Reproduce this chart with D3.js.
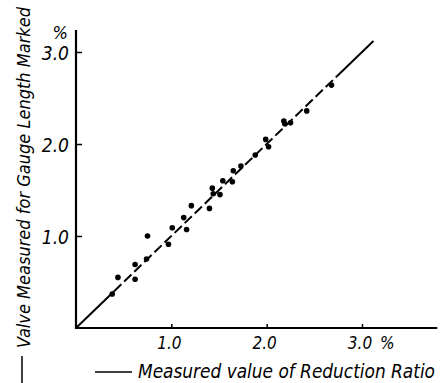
<!DOCTYPE html>
<html>
<head>
<meta charset="utf-8">
<script src="https://cdn.jsdelivr.net/npm/d3@7"></script>
<style>
  body { margin: 0; background: #fff; }
  text { font-family: "DejaVu Sans Condensed", "DejaVu Sans", sans-serif; font-style: italic; font-stretch: condensed; fill: #000; }
</style>
</head>
<body>
<div id="vis-holder"></div>
<script>
// Set dimensions
const width = 446;
const height = 383;

// measured reduction ratio (%)
const measuredX = [0.38, 0.44, 0.62, 0.62, 0.74, 0.75, 0.97, 1.01, 1.13, 1.16, 1.21,
                   1.40, 1.43, 1.44, 1.51, 1.54, 1.64, 1.65, 1.73, 1.88, 1.99, 2.02,
                   2.18, 2.19, 2.25, 2.42, 2.68];
// value measured for gauge length marked (%)
const measuredY = [0.37, 0.55, 0.69, 0.53, 0.75, 1.00, 0.91, 1.09, 1.20, 1.07, 1.33,
                   1.30, 1.52, 1.46, 1.45, 1.60, 1.59, 1.71, 1.76, 1.88, 2.05, 1.97,
                   2.25, 2.22, 2.23, 2.36, 2.64];

const xTicks = [1.0, 2.0, 3.0];
const yTicks = [1.0, 2.0, 3.0];
const xTickLabels = ["1.0", "2.0", "3.0"];
const yTickLabels = ["1.0", "2.0", "3.0"];

// fitted line y = x, drawn solid / dashed / solid
const fitBreaks = [0, 0.40, 2.74, 3.12];
const fitDashed = [false, true, false];

const svg = d3.select("#vis-holder")
  .append("svg")
  .attr("width", width)
  .attr("height", height);

svg.append("rect").attr("width", width).attr("height", height).attr("fill", "#fff");

// scales
const x = d3.scaleLinear().domain([0, 3]).range([76, 362]);
const y = d3.scaleLinear().domain([0, 3]).range([328, 52]);

// x axis
svg.append("g")
  .attr("transform", `translate(0,${y(0)})`)
  .call(d3.axisTop(x).tickValues(xTicks).tickSize(4).tickSizeOuter(0).tickFormat(""))
  .call(g => g.select(".domain").remove())
  .call(g => g.selectAll("line").attr("stroke-width", 1.5));
svg.append("line")
  .attr("x1", x(0) - 1).attr("x2", x(3.79))
  .attr("y1", y(0)).attr("y2", y(0))
  .attr("stroke", "#000").attr("stroke-width", 2.2);

// y axis
svg.append("g")
  .attr("transform", `translate(${x(0)},0)`)
  .call(d3.axisRight(y).tickValues(yTicks).tickSize(6).tickSizeOuter(0).tickFormat(""))
  .call(g => g.select(".domain").remove())
  .call(g => g.selectAll("line").attr("stroke-width", 1.5));
svg.append("line")
  .attr("x1", x(0)).attr("x2", x(0))
  .attr("y1", y(0) + 1).attr("y2", y(3.24))
  .attr("stroke", "#000").attr("stroke-width", 2.2);

// tick labels
svg.selectAll(".xlab")
  .data(xTicks)
  .enter()
  .append("text")
  .attr("class", "xlab")
  .attr("x", d => x(d) - 2)
  .attr("y", y(0) + 21)
  .attr("text-anchor", "middle")
  .attr("font-size", "17px")
  .text((d, i) => xTickLabels[i]);

svg.append("text")
  .attr("x", x(3) + 18)
  .attr("y", y(0) + 21)
  .attr("font-size", "17px")
  .text("%");

svg.selectAll(".ylab")
  .data(yTicks)
  .enter()
  .append("text")
  .attr("class", "ylab")
  .attr("x", x(0) - 7)
  .attr("y", d => y(d) + 8)
  .attr("text-anchor", "end")
  .attr("font-size", "19px")
  .text((d, i) => yTickLabels[i]);

svg.append("text")
  .attr("x", x(0) - 8)
  .attr("y", y(3) - 13)
  .attr("text-anchor", "end")
  .attr("font-size", "18px")
  .text("%");

// fitted line
const fitLine = d3.line().x(d => x(d)).y(d => y(d));
fitDashed.forEach((dashed, i) => {
  svg.append("path")
    .attr("d", fitLine([fitBreaks[i], fitBreaks[i + 1]]))
    .attr("fill", "none")
    .attr("stroke", "#000")
    .attr("stroke-width", 2)
    .attr("stroke-dasharray", dashed ? "10,4" : null);
});

// points
svg.selectAll("circle")
  .data(measuredX)
  .enter()
  .append("circle")
  .attr("cx", d => x(d))
  .attr("cy", (d, i) => y(measuredY[i]))
  .attr("r", 2.8)
  .attr("fill", "#000");

// x axis title
svg.append("line")
  .attr("x1", 95).attr("x2", 132)
  .attr("y1", 372).attr("y2", 372)
  .attr("stroke", "#000").attr("stroke-width", 1.5);
svg.append("text")
  .attr("x", 138)
  .attr("y", 378)
  .attr("font-size", "19px")
  .attr("textLength", 297)
  .attr("lengthAdjust", "spacingAndGlyphs")
  .text("Measured value of Reduction Ratio");

// y axis title
svg.append("line")
  .attr("x1", 22).attr("x2", 22)
  .attr("y1", 356).attr("y2", 383)
  .attr("stroke", "#000").attr("stroke-width", 1.5);
svg.append("text")
  .attr("transform", "translate(30,348) rotate(-90)")
  .attr("font-size", "18px")
  .attr("textLength", 341)
  .attr("lengthAdjust", "spacingAndGlyphs")
  .text("Valve Measured for Gauge Length Marked");
</script>
</body>
</html>
